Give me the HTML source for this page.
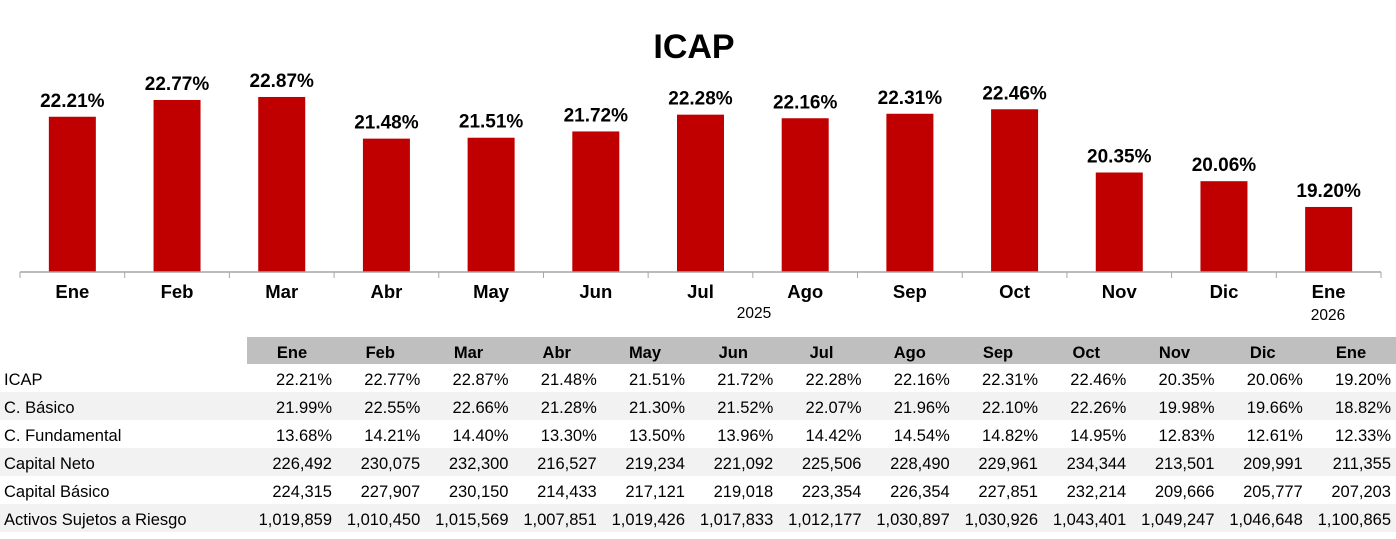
<!DOCTYPE html>
<html><head><meta charset="utf-8"><style>
body{margin:0;width:1396px;height:534px;background:#fff;overflow:hidden;font-family:"Liberation Sans",sans-serif;}
</style></head><body>
<svg width="1396" height="534" xmlns="http://www.w3.org/2000/svg" font-family="Liberation Sans, sans-serif">
<text x="694" y="58" text-anchor="middle" font-size="34" font-weight="bold">ICAP</text>
<g id="bars"></g>
<line x1="20" y1="272" x2="1381" y2="272" stroke="#a6a6a6" stroke-width="1.5"/>
<g id="tbl"></g>
</svg>
<script>
const m=["Ene","Feb","Mar","Abr","May","Jun","Jul","Ago","Sep","Oct","Nov","Dic","Ene"];
const v=[22.21,22.77,22.87,21.48,21.51,21.72,22.28,22.16,22.31,22.46,20.35,20.06,19.20];
let s="";const cw=(1381-20)/13;
for(let i=0;i<13;i++){const x=20+i*cw, c=x+cw/2, y=272-(v[i]-17.03)*29.97;
s+=`<rect x="${c-23.5}" y="${y}" width="47" height="${272-y}" fill="#c00000"/>`;
s+=`<text x="${c}" y="${y-10}" text-anchor="middle" font-size="19" font-weight="bold">${v[i].toFixed(2)}%</text>`;
s+=`<text x="${c}" y="298" text-anchor="middle" font-size="18.5" font-weight="bold">${m[i]}</text>`;
s+=`<line x1="${x}" y1="272" x2="${x}" y2="278" stroke="#a6a6a6"/>`;}
s+=`<line x1="1381" y1="272" x2="1381" y2="278" stroke="#a6a6a6"/>`;
s+=`<text x="754" y="318" text-anchor="middle" font-size="15.5">2025</text><text x="1328" y="320" text-anchor="middle" font-size="15.5">2026</text>`;
document.getElementById("bars").innerHTML=s;
const rows=[["ICAP","22.21%","22.77%","22.87%","21.48%","21.51%","21.72%","22.28%","22.16%","22.31%","22.46%","20.35%","20.06%","19.20%"],
["C. Básico","21.99%","22.55%","22.66%","21.28%","21.30%","21.52%","22.07%","21.96%","22.10%","22.26%","19.98%","19.66%","18.82%"],
["C. Fundamental","13.68%","14.21%","14.40%","13.30%","13.50%","13.96%","14.42%","14.54%","14.82%","14.95%","12.83%","12.61%","12.33%"],
["Capital Neto","226,492","230,075","232,300","216,527","219,234","221,092","225,506","228,490","229,961","234,344","213,501","209,991","211,355"],
["Capital Básico","224,315","227,907","230,150","214,433","217,121","219,018","223,354","226,354","227,851","232,214","209,666","205,777","207,203"],
["Activos Sujetos a Riesgo","1,019,859","1,010,450","1,015,569","1,007,851","1,019,426","1,017,833","1,012,177","1,030,897","1,030,926","1,043,401","1,049,247","1,046,648","1,100,865"]];
let t=`<rect x="247" y="337" width="1149" height="27" fill="#bfbfbf"/>`;
for(let j=0;j<13;j++){const r=332+j*88.25;t+=`<text x="${r-40}" y="358" text-anchor="middle" font-size="16.5" font-weight="bold">${m[j]}</text>`;}
rows.forEach((row,i)=>{const y0=364+i*28;if(i%2==1)t+=`<rect x="0" y="${y0}" width="1396" height="28" fill="#f2f2f2"/>`;
t+=`<text x="4" y="${y0+21}" font-size="16.5">${row[0]}</text>`;
for(let j=0;j<13;j++){t+=`<text x="${332+j*88.25}" y="${y0+21}" text-anchor="end" font-size="16.5">${row[j+1]}</text>`;}});
document.getElementById("tbl").innerHTML=t;
</script>
</body></html>
